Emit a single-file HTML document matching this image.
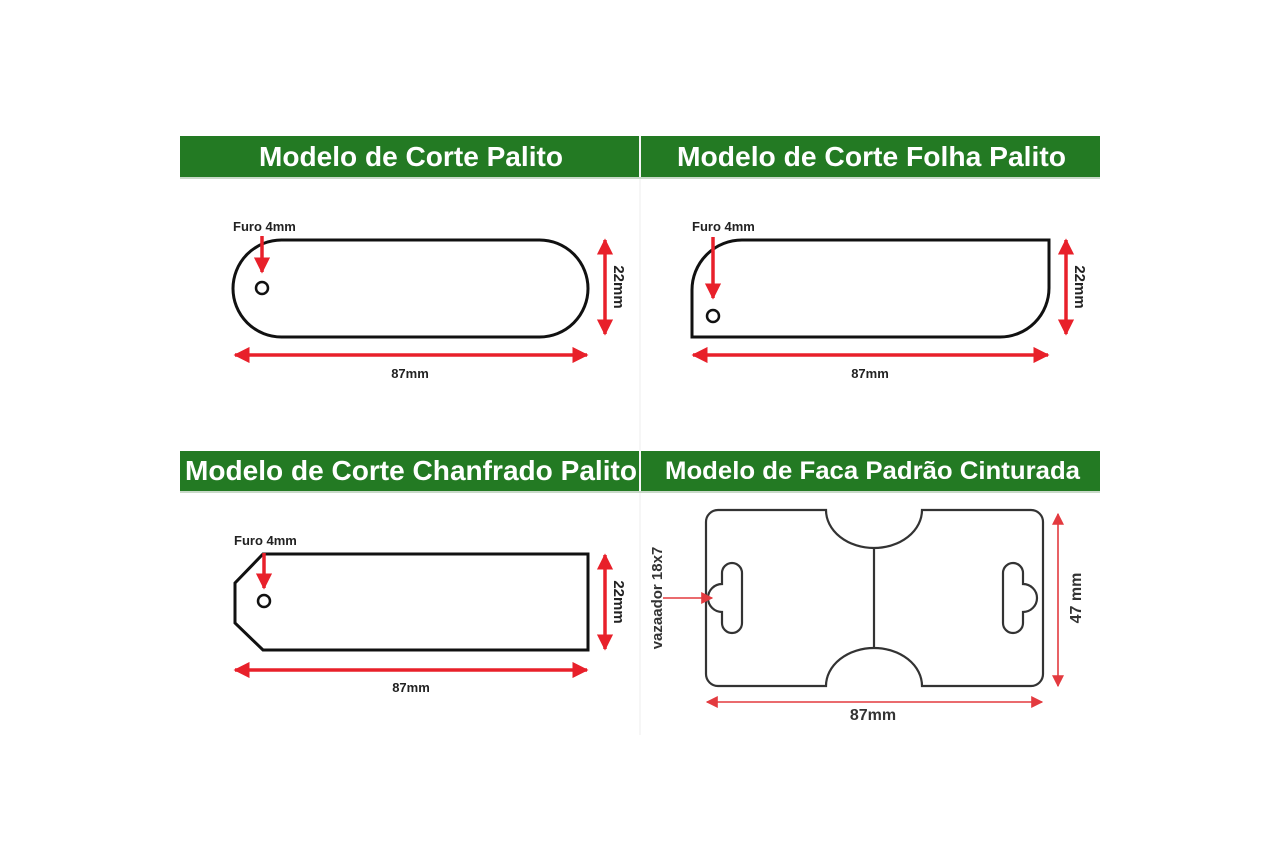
<!DOCTYPE html>
<html><head><meta charset="utf-8"><style>
html,body{margin:0;padding:0;background:#fff;}
svg{display:block;}
text{font-family:"Liberation Sans",sans-serif;}
</style></head><body>
<svg width="1280" height="868" viewBox="0 0 1280 868" xmlns="http://www.w3.org/2000/svg">
<defs>
<marker id="ah" viewBox="0 0 10 10" refX="9" refY="5" markerWidth="4.6" markerHeight="4.6" orient="auto-start-reverse" markerUnits="strokeWidth">
<path d="M0,0 L10,5 L0,10 z" fill="#e8202a"/></marker>
<marker id="ah2" viewBox="0 0 10 10" refX="9" refY="5" markerWidth="7.5" markerHeight="7.5" orient="auto-start-reverse" markerUnits="strokeWidth">
<path d="M0,0 L10,5 L0,10 z" fill="#e33a3f"/></marker>
</defs>
<rect width="1280" height="868" fill="#fff"/>
<line x1="640" y1="136" x2="640" y2="735" stroke="#eee" stroke-width="1"/>
<g fill="#237a23">
<rect x="180" y="136" width="459" height="41"/>
<rect x="641" y="136" width="459" height="41"/>
<rect x="180" y="451" width="459" height="40"/>
<rect x="641" y="451" width="459" height="40"/>
</g>
<g fill="#c9d9c9"><rect x="180" y="177" width="920" height="2"/><rect x="180" y="491" width="920" height="2"/></g>
<g fill="#fff" font-weight="bold" font-size="28">
<text x="259" y="166" textLength="304" lengthAdjust="spacingAndGlyphs">Modelo de Corte Palito</text>
<text x="677" y="166" textLength="389" lengthAdjust="spacingAndGlyphs">Modelo de Corte Folha Palito</text>
<text x="185" y="480" textLength="452" lengthAdjust="spacingAndGlyphs">Modelo de Corte Chanfrado Palito</text>
<text x="665" y="479" font-size="25" textLength="415" lengthAdjust="spacingAndGlyphs">Modelo de Faca Padrão Cinturada</text>
</g>
<rect x="233" y="240" width="355" height="97" rx="48.5" fill="none" stroke="#111" stroke-width="3"/>
<circle cx="262" cy="288" r="6" fill="none" stroke="#111" stroke-width="2.5"/>
<path d="M692,337 L692,290 A50,50 0 0 1 742,240 L1049,240 L1049,288 A49,49 0 0 1 1000,337 Z" fill="none" stroke="#111" stroke-width="3"/>
<circle cx="713" cy="316" r="6" fill="none" stroke="#111" stroke-width="2.5"/>
<path d="M263,554 L588,554 L588,650 L263,650 L235,623 L235,583 Z" fill="none" stroke="#111" stroke-width="3"/>
<circle cx="264" cy="601" r="6" fill="none" stroke="#111" stroke-width="2.5"/>
<g stroke="#e8202a" stroke-width="3.5" fill="none">
<line x1="262" y1="236" x2="262" y2="272" marker-end="url(#ah)"/>
<line x1="235" y1="355" x2="587" y2="355" marker-start="url(#ah)" marker-end="url(#ah)"/>
<line x1="605" y1="240" x2="605" y2="334" marker-start="url(#ah)" marker-end="url(#ah)"/>
<line x1="713" y1="237" x2="713" y2="298" marker-end="url(#ah)"/>
<line x1="693" y1="355" x2="1048" y2="355" marker-start="url(#ah)" marker-end="url(#ah)"/>
<line x1="1066" y1="240" x2="1066" y2="334" marker-start="url(#ah)" marker-end="url(#ah)"/>
<line x1="264" y1="553" x2="264" y2="588" marker-end="url(#ah)"/>
<line x1="235" y1="670" x2="587" y2="670" marker-start="url(#ah)" marker-end="url(#ah)"/>
<line x1="605" y1="555" x2="605" y2="649" marker-start="url(#ah)" marker-end="url(#ah)"/>
</g>
<g fill="#222" font-weight="bold" font-size="13">
<text x="233" y="231">Furo 4mm</text>
<text x="692" y="231">Furo 4mm</text>
<text x="234" y="545">Furo 4mm</text>
<text x="410" y="378" text-anchor="middle">87mm</text>
<text x="870" y="378" text-anchor="middle">87mm</text>
<text x="411" y="692" text-anchor="middle">87mm</text>
<text transform="translate(614,287) rotate(90)" text-anchor="middle" font-size="15">22mm</text>
<text transform="translate(1075,287) rotate(90)" text-anchor="middle" font-size="15">22mm</text>
<text transform="translate(614,602) rotate(90)" text-anchor="middle" font-size="15">22mm</text>
</g>
<path d="M718,510 L826,510 A48,38 0 0 0 922,510 L1031,510 A12,12 0 0 1 1043,522 L1043,674 A12,12 0 0 1 1031,686 L922,686 A48,38 0 0 0 826,686 L718,686 A12,12 0 0 1 706,674 L706,522 A12,12 0 0 1 718,510 Z" fill="none" stroke="#333" stroke-width="2.2"/>
<line x1="874" y1="548" x2="874" y2="648" stroke="#333" stroke-width="2.2"/>
<path d="M732,563 A10,10 0 0 1 742,573 L742,623 A10,10 0 0 1 722,623 L722,612 A14,14 0 0 1 722,584 L722,573 A10,10 0 0 1 732,563 Z" fill="none" stroke="#333" stroke-width="2.2"/>
<path d="M1013,563 A10,10 0 0 0 1003,573 L1003,623 A10,10 0 0 0 1023,623 L1023,612 A14,14 0 0 0 1023,584 L1023,573 A10,10 0 0 0 1013,563 Z" fill="none" stroke="#333" stroke-width="2.2"/>
<g stroke="#e33a3f" stroke-width="1.6" fill="none">
<line x1="663" y1="598" x2="712" y2="598" marker-end="url(#ah2)"/>
<line x1="707" y1="702" x2="1042" y2="702" marker-start="url(#ah2)" marker-end="url(#ah2)"/>
<line x1="1058" y1="514" x2="1058" y2="686" marker-start="url(#ah2)" marker-end="url(#ah2)"/>
</g>
<g fill="#333" font-weight="bold" font-size="15">
<text x="873" y="720" text-anchor="middle" font-size="16">87mm</text>
<text transform="translate(662,598) rotate(-90)" text-anchor="middle">vazaador 18x7</text>
<text transform="translate(1081,598) rotate(-90)" text-anchor="middle" font-size="16">47 mm</text>
</g>
</svg>
</body></html>
